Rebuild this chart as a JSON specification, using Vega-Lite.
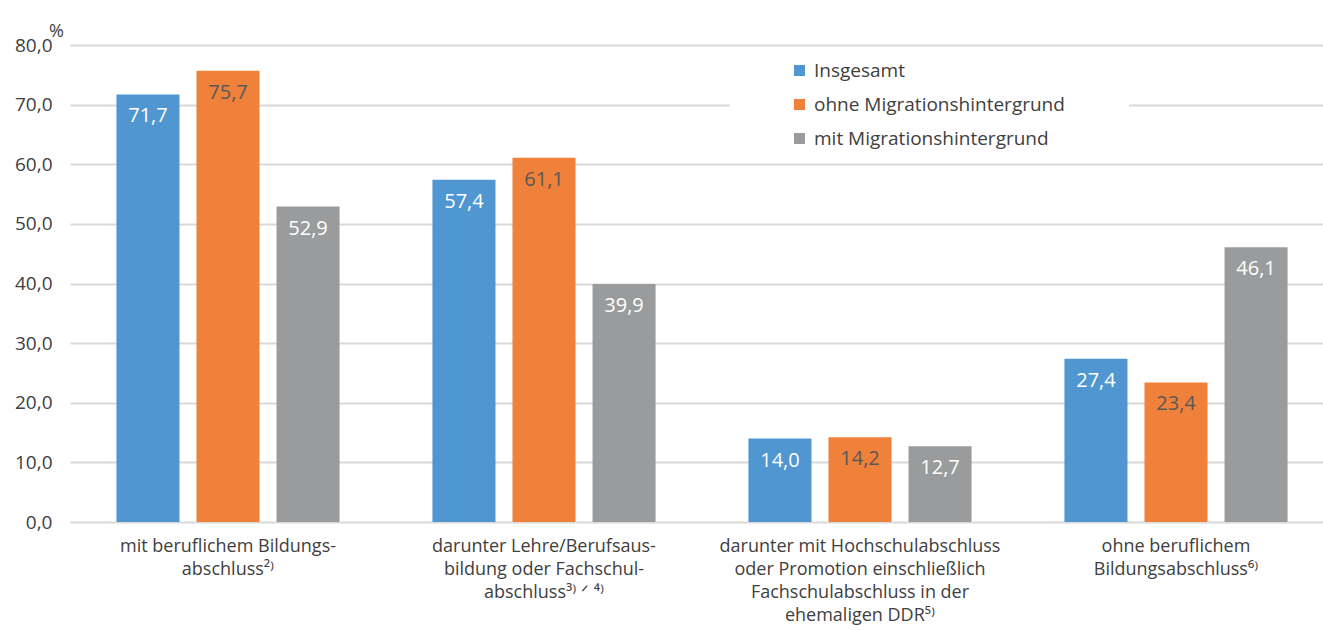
{
  "$schema": "https://vega.github.io/schema/vega-lite/v6.json",
  "autosize": "none",
  "padding": {"left": 70, "top": 45, "right": 0, "bottom": 108},
  "width": 1264,
  "height": 477,
  "config": {
    "locale": {"number": {"decimal": ",", "thousands": ".", "grouping": [3], "currency": ["", " €"]}},
    "view": {"stroke": null},
    "font": "Open Sans"
  },
  "data": {
    "values": [
      {"k": "mit beruflichem Bildungs-|abschluss²⁾", "s": "Insgesamt", "v": 71.7},
      {"k": "mit beruflichem Bildungs-|abschluss²⁾", "s": "ohne Migrationshintergrund", "v": 75.7},
      {"k": "mit beruflichem Bildungs-|abschluss²⁾", "s": "mit Migrationshintergrund", "v": 52.9},
      {"k": "darunter Lehre/Berufsaus-|bildung oder Fachschul-|abschluss³⁾ ᐟ ⁴⁾", "s": "Insgesamt", "v": 57.4},
      {"k": "darunter Lehre/Berufsaus-|bildung oder Fachschul-|abschluss³⁾ ᐟ ⁴⁾", "s": "ohne Migrationshintergrund", "v": 61.1},
      {"k": "darunter Lehre/Berufsaus-|bildung oder Fachschul-|abschluss³⁾ ᐟ ⁴⁾", "s": "mit Migrationshintergrund", "v": 39.9},
      {"k": "darunter mit Hochschulabschluss|oder Promotion einschließlich|Fachschulabschluss in der|ehemaligen DDR⁵⁾", "s": "Insgesamt", "v": 14.0},
      {"k": "darunter mit Hochschulabschluss|oder Promotion einschließlich|Fachschulabschluss in der|ehemaligen DDR⁵⁾", "s": "ohne Migrationshintergrund", "v": 14.2},
      {"k": "darunter mit Hochschulabschluss|oder Promotion einschließlich|Fachschulabschluss in der|ehemaligen DDR⁵⁾", "s": "mit Migrationshintergrund", "v": 12.7},
      {"k": "ohne beruflichem|Bildungsabschluss⁶⁾", "s": "Insgesamt", "v": 27.4},
      {"k": "ohne beruflichem|Bildungsabschluss⁶⁾", "s": "ohne Migrationshintergrund", "v": 23.4},
      {"k": "ohne beruflichem|Bildungsabschluss⁶⁾", "s": "mit Migrationshintergrund", "v": 46.1}
    ]
  },
  "encoding": {
    "x": {
      "field": "k", "type": "nominal", "sort": null,
      "scale": {"paddingInner": 0, "paddingOuter": 0},
      "axis": {
        "title": null, "labelAngle": 0, "domain": false, "ticks": false,
        "labelExpr": "split(datum.label, '|')",
        "labelFontSize": 18, "labelColor": "#404040", "labelPadding": 15,
        "labelLineHeight": 23, "labelBaseline": "top", "labelLimit": 400
      }
    },
    "xOffset": {
      "field": "s", "type": "nominal",
      "sort": ["Insgesamt", "ohne Migrationshintergrund", "mit Migrationshintergrund"],
      "scale": {"paddingInner": 0.2125, "paddingOuter": 0.58}
    },
    "y": {
      "field": "v", "type": "quantitative",
      "scale": {"domain": [0, 80]},
      "axis": {
        "values": [0, 10, 20, 30, 40, 50, 60, 70, 80],
        "format": ".1f", "domain": false, "ticks": false,
        "labelFontSize": 19, "labelColor": "#404040", "labelPadding": 18,
        "gridColor": "#d9d9d9", "gridWidth": 2,
        "title": "%", "titleAngle": 0, "titleX": -14, "titleY": -14,
        "titleAlign": "center", "titleBaseline": "middle",
        "titleFontWeight": "normal", "titleFontSize": 18, "titleColor": "#404040"
      }
    }
  },
  "layer": [
    {
      "mark": {"type": "bar"},
      "encoding": {
        "color": {
          "field": "s", "type": "nominal",
          "sort": ["Insgesamt", "ohne Migrationshintergrund", "mit Migrationshintergrund"],
          "scale": {
            "domain": ["Insgesamt", "ohne Migrationshintergrund", "mit Migrationshintergrund"],
            "range": ["#5096D1", "#F0813A", "#999B9C"]
          },
          "legend": {
            "title": null, "orient": "none", "legendX": 660, "legendY": 8,
            "fillColor": "white", "padding": 8,
            "symbolType": "square", "symbolSize": 121, "symbolStrokeWidth": 0,
            "symbolOffset": 52,
            "labelFontSize": 19, "labelColor": "#404040", "labelOffset": 5,
            "rowPadding": 14, "labelLimit": 500,
            "labelExpr": "datum.label + '\u2800\u2800\u2800\u2800'"
          }
        }
      }
    },
    {
      "mark": {"type": "text", "baseline": "top", "dy": 12, "fontSize": 20},
      "encoding": {
        "text": {"field": "v", "type": "quantitative", "format": ".1f"},
        "color": {
          "condition": {"test": "datum.s === 'ohne Migrationshintergrund'", "value": "#595959"},
          "value": "white"
        }
      }
    }
  ]
}
